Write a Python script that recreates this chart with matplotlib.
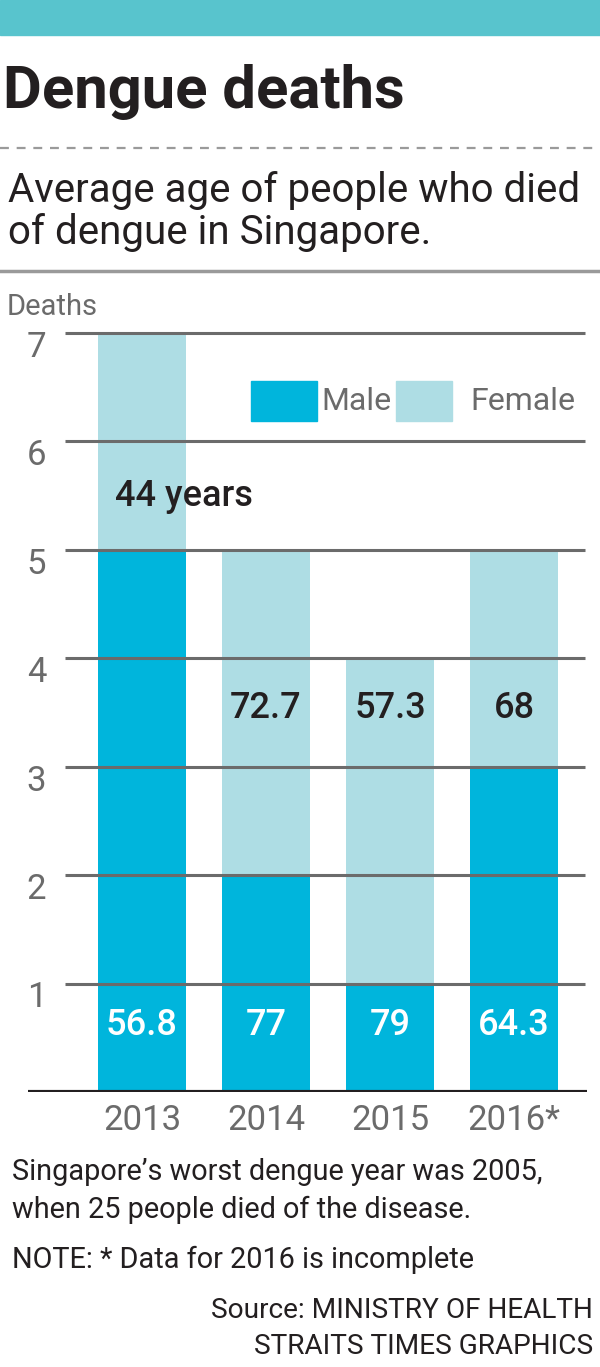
import matplotlib.pyplot as plt
from matplotlib.lines import Line2D
from matplotlib.patches import Rectangle

years = ['2013', '2014', '2015', '2016*']
male = [5, 2, 1, 3]
female = [2, 3, 3, 2]
male_age = ['56.8', '77', '79', '64.3']
female_age = ['44 years', '72.7', '57.3', '68']

MALE = '#00b5dc'
FEMALE = '#aedde4'
GREY = '#6b6b6b'
DARK = '#231f20'

plt.rcParams['font.family'] = ['Roboto', 'DejaVu Sans']

W, H = 600, 1367
fig = plt.figure(figsize=(W / 100, H / 100), dpi=100)


def fy(y):
    return 1 - y / H


# header
fig.patches.append(Rectangle((0, fy(35)), 1, 35 / H, transform=fig.transFigure,
                             color='#58c4cd', zorder=0))
fig.text(3 / W, fy(92), 'Dengue deaths', fontsize=43, fontweight='bold',
         color=DARK, va='center')
fig.add_artist(Line2D([0, 1], [fy(148), fy(148)], transform=fig.transFigure,
                      color='#9a9a9a', lw=1.6, ls=(0, (4, 3.5))))
fig.text(8 / W, fy(191), 'Average age of people who died', fontsize=29,
         color=DARK, va='center')
fig.text(8 / W, fy(233), 'of dengue in Singapore.', fontsize=29,
         color=DARK, va='center')
fig.add_artist(Line2D([0, 1], [fy(271), fy(271)], transform=fig.transFigure,
                      color='#9a9a9a', lw=2.5))
fig.text(7 / W, fy(307), 'Deaths', fontsize=21, color=GREY, va='center')

# chart area
unit = (1092 - 333) / 7
top = 7.3
ax = fig.add_axes([28 / W, (H - 1092) / H, 559 / W, top * unit / H])
x = list(range(len(years)))
ax.bar(x, male, width=0.71, color=MALE, zorder=1)
ax.bar(x, female, bottom=male, width=0.71, color=FEMALE, zorder=1)
ax.set_xlim(-0.919, 3.589)
ax.set_ylim(0, top)
ax.hlines(range(1, 8), -0.62, 3.57, color=GREY, lw=2.2, zorder=2)
ax.axhline(0, color=DARK, lw=3, zorder=3)
for s in ax.spines.values():
    s.set_visible(False)
ax.set_xticks([])
ax.set_yticks([])

for v in range(1, 8):
    ax.text(-0.85, v + 0.02, str(v), fontsize=25, color=GREY, ha='center',
            va='top')
for i, yr in enumerate(years):
    ax.text(i, -0.26, yr, fontsize=25, color=GREY, ha='center', va='center',
            clip_on=False)
    ax.text(i, 0.61, male_age[i], fontsize=26, fontweight='medium',
            color='white', ha='center', va='center')
    if i == 0:
        ax.text(-0.22, 5.49, female_age[i], fontsize=26, fontweight='medium',
                color=DARK, ha='left', va='center', zorder=4)
    else:
        ax.text(i, 3.54, female_age[i], fontsize=26, fontweight='medium',
                color=DARK, ha='center', va='center')

# legend
ax.add_patch(Rectangle((0.88, 6.19), 0.535, 0.37, color=MALE, zorder=3))
ax.text(1.45, 6.37, 'Male', fontsize=23, color=GREY, va='center')
ax.add_patch(Rectangle((2.05, 6.19), 0.45, 0.37, color=FEMALE, zorder=3))
ax.text(2.65, 6.37, 'Female', fontsize=23, color=GREY, va='center')

# footer
fig.text(12 / W, fy(1172), 'Singapore\u2019s worst dengue year was 2005,',
         fontsize=20.8, color=DARK, va='center')
fig.text(12 / W, fy(1210), 'when 25 people died of the disease.',
         fontsize=20.8, color=DARK, va='center')
fig.text(12 / W, fy(1260), 'NOTE: * Data for 2016 is incomplete',
         fontsize=20.8, color=DARK, va='center')
fig.text(593 / W, fy(1311), 'Source: MINISTRY OF HEALTH', fontsize=20.2,
         color=DARK, va='center', ha='right')
fig.text(593 / W, fy(1346), 'STRAITS TIMES GRAPHICS', fontsize=20.2,
         color=DARK, va='center', ha='right')

fig.savefig('out.png', dpi=100)
